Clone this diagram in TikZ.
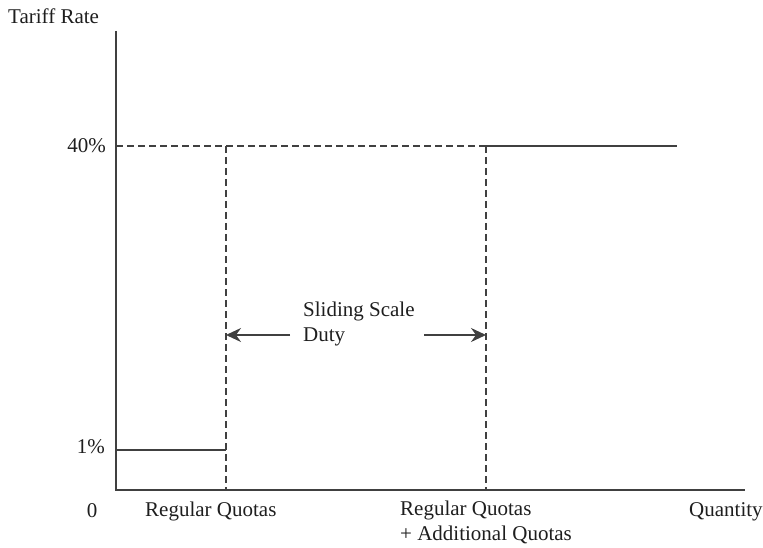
\documentclass[tikz,border=0pt]{standalone}
\usepackage{fontspec}
\setmainfont{Liberation Serif}
\usetikzlibrary{arrows.meta,positioning}
\definecolor{ink}{RGB}{64,64,64}
\definecolor{txt}{RGB}{30,30,30}

\begin{document}
\begin{tikzpicture}[x=1pt, y=-1pt,
  axis/.style={draw=ink, line width=2.2pt},
  rate/.style={draw=ink, line width=1.8pt},
  guide/.style={draw=ink, line width=1.6pt, dash pattern=on 7pt off 4pt},
  lbl/.style={font=\fontsize{21}{25}\selectfont, text=txt, inner sep=0pt, align=left},
  dutyarrow/.style={draw=ink, line width=1.8pt, -{Stealth[length=15pt, width=14pt, inset=5pt]}},
]
  \useasboundingbox (0,0) rectangle (763,548);

  % axes and break points
  \coordinate (o) at (116,490);
  \coordinate (ytop) at (116,31);
  \coordinate (xend) at (745,490);
  \coordinate (low) at (116,450);
  \coordinate (high) at (116,146);
  \coordinate (q1) at (226,490);
  \coordinate (q2) at (486,490);
  \coordinate (q1low) at (226,450);
  \coordinate (q1top) at (226,146);
  \coordinate (q2top) at (486,146);
  \coordinate (hend) at (677,146);

  \draw[axis] (ytop) -- (o) -- (xend);

  % schedule
  \draw[rate] (low) -- (q1low);
  \draw[guide] (high) -- (q2top);
  \draw[rate] (q2top) -- (hend);
  \draw[guide] (q1top) -- (q1);
  \draw[guide] (q2top) -- (q2);

  % labels
  \node[lbl, anchor=base west] (ylab) at (8,24) {Tariff Rate};
  \node[lbl, anchor=base east] (t40) at (106,153) {40\%};
  \node[lbl, anchor=base east] (t1) at (105,453) {1\%};
  \node[lbl, anchor=base] (zero) at (92,517) {0};
  \node[lbl, anchor=base west] (rq) at (145,516) {Regular Quotas};
  \node[lbl, anchor=base west] (rqa) at (400,540) {Regular Quotas\\+ Additional Quotas};
  \node[lbl, anchor=base west] (xlab) at (689,516) {Quantity};
  \node[lbl, anchor=base west] (duty) at (303,341) {Sliding Scale\\Duty};

  % sliding scale arrows
  \coordinate (al) at (290,335);
  \coordinate (ar) at (424,335);
  \draw[dutyarrow] (al) -- (al -| q1);
  \draw[dutyarrow] (ar) -- (ar -| q2);
\end{tikzpicture}
\end{document}
